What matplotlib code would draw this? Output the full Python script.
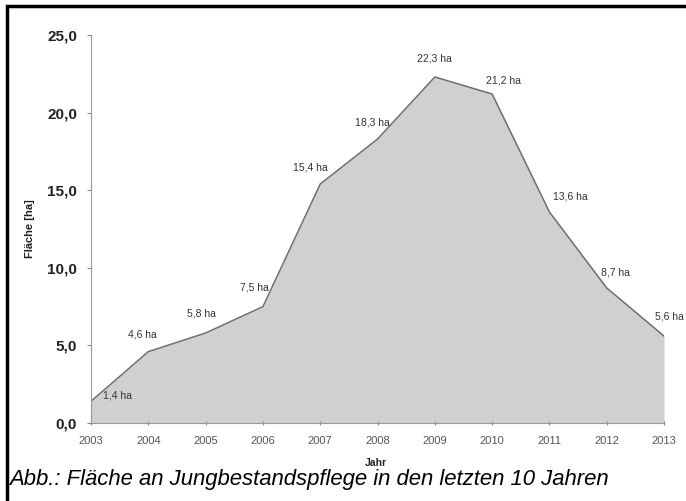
import matplotlib.pyplot as plt
from matplotlib.patches import Rectangle

jahre = [2003, 2004, 2005, 2006, 2007, 2008, 2009, 2010, 2011, 2012, 2013]
flaeche = [1.4, 4.6, 5.8, 7.5, 15.4, 18.3, 22.3, 21.2, 13.6, 8.7, 5.6]
beschriftung = ["1,4 ha", "4,6 ha", "5,8 ha", "7,5 ha", "15,4 ha", "18,3 ha",
                "22,3 ha", "21,2 ha", "13,6 ha", "8,7 ha", "5,6 ha"]
y_ticks = [0, 5, 10, 15, 20, 25]
y_ticklabels = ["0,0", "5,0", "10,0", "15,0", "20,0", "25,0"]

# offsets of the value labels in points (x, y)
offsets = [(19, 4), (-4, 12), (-3, 14), (-6, 14), (-7, 12), (-4, 12),
           (0, 13), (8, 10), (15, 11), (6.5, 11), (4, 14)]

fig = plt.figure(figsize=(6.86, 5.01), dpi=100)
plt.rcParams['font.family'] = ['Liberation Sans', 'DejaVu Sans']

ax = fig.add_axes([0.1327, 0.1557, 0.8353, 0.7743])
ax.fill_between(jahre, flaeche, 0, color="#d0d0d0", lw=0)
ax.plot(jahre, flaeche, color="#6e6e6e", lw=1.1)
ax.plot([jahre[-1], jahre[-1]], [0, flaeche[-1]], color="#9a9a9a", lw=0.8)

for x, y, t, o in zip(jahre, flaeche, beschriftung, offsets):
    ax.annotate(t, (x, y), xytext=o, textcoords="offset points",
                ha="center", va="center", fontsize=7.5, color="#333333")

ax.set_xlim(2003, 2013)
ax.set_ylim(0, 25)
ax.set_xticks(jahre)
ax.set_xticklabels([str(j) for j in jahre], fontsize=8, color="#555555")
ax.set_yticks(y_ticks)
ax.set_yticklabels(y_ticklabels, fontsize=11, fontweight="bold", color="#222222")
ax.tick_params(axis="y", length=3, color="#888888", pad=7)
ax.tick_params(axis="x", length=3, direction="inout", color="#888888", pad=8)
for s in ["top", "right"]:
    ax.spines[s].set_visible(False)
ax.spines["left"].set_color("#999999")
ax.spines["bottom"].set_color("#999999")

fig.text(30 / 686, 1 - 229 / 501, "Fläche [ha]", rotation=90, fontsize=8,
         fontweight="bold", ha="center", va="center", color="#222222")
fig.text(376 / 686, 1 - 463 / 501, "Jahr", fontsize=7.5, fontweight="bold",
         ha="center", va="center", color="#222222")
fig.text(9 / 686, 1 - 480 / 501,
         "Abb.: Fläche an Jungbestandspflege in den letzten 10 Jahren",
         fontsize=15.9, style="italic", ha="left", va="center")

fig.add_artist(Rectangle((7 / 686, -0.1), 1.2, 1 - 6 / 501 + 0.1,
                         transform=fig.transFigure, fill=False,
                         edgecolor="black", lw=2.5))

fig.savefig("out.png", dpi=100)
